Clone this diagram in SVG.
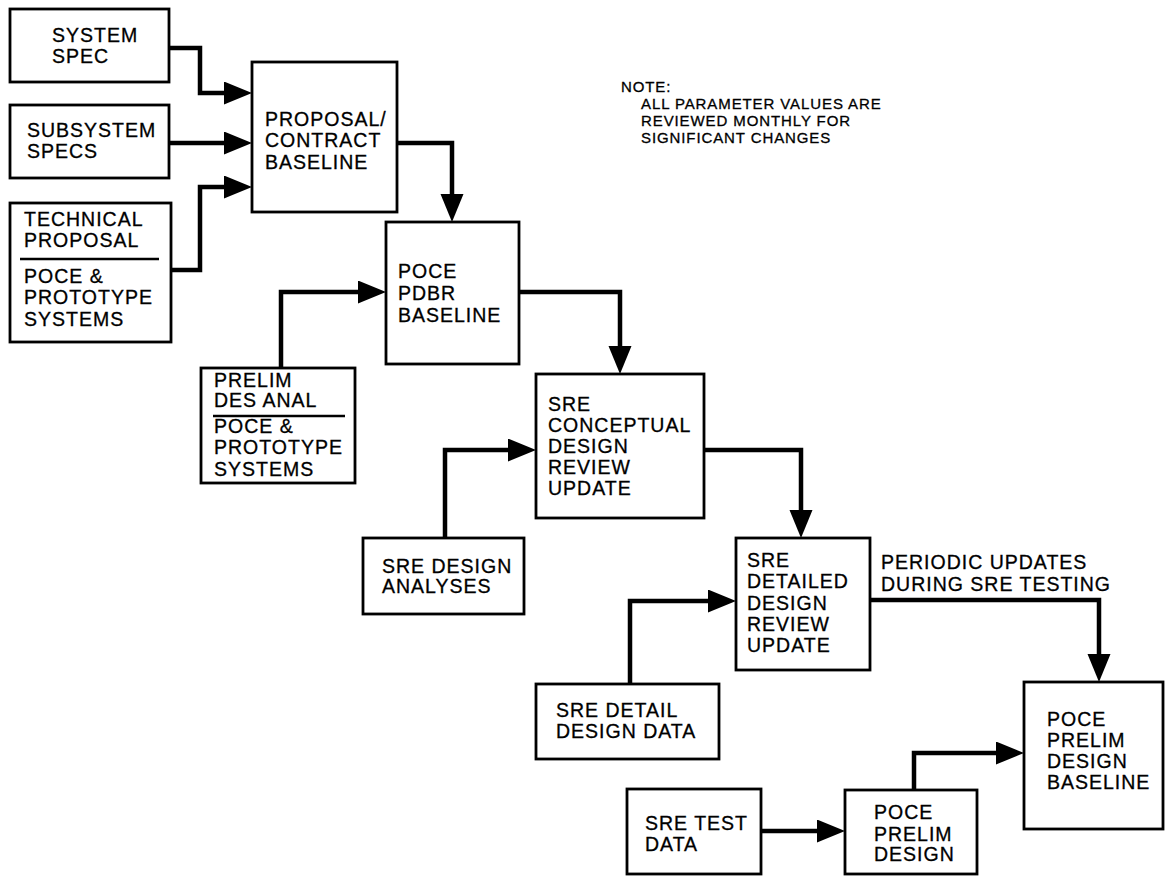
<svg xmlns="http://www.w3.org/2000/svg" width="1166" height="876" viewBox="0 0 1166 876">
  <defs>
    <style>
      .box { fill: #fff; stroke: #000; stroke-width: 2.8; }
      .rule { stroke: #000; stroke-width: 2.6; }
      .lbl { font-family: "Liberation Sans", Arial, sans-serif; font-size: 19.5px; letter-spacing: 1px; fill: #000; stroke: #000; stroke-width: 0.3; }
      .note { font-family: "Liberation Sans", Arial, sans-serif; font-size: 15px; letter-spacing: 0.9px; fill: #000; stroke: #000; stroke-width: 0.3; }
      .flow { fill: none; stroke: #000; stroke-width: 4.5; stroke-linejoin: miter; marker-end: url(#head); }
    </style>
    <!-- arrowhead: tip sits 20px beyond the path end so the thick line stays hidden under it -->
    <marker id="head" markerUnits="userSpaceOnUse" markerWidth="30" markerHeight="24" refX="8" refY="11.5" orient="auto">
      <path d="M0,0 L28,11.5 L0,23 Z" fill="#000"/>
    </marker>
  </defs>

  <rect width="1166" height="876" fill="#fff"/>

  <!-- connectors -->
  <g id="connectors">
    <path class="flow" d="M169,48 H200 V93 H232"/>
    <path class="flow" d="M169,143 H232"/>
    <path class="flow" d="M171,270 H200 V187 H232"/>
    <path class="flow" d="M397,143 H452 V202"/>
    <path class="flow" d="M281,368 V292 H366"/>
    <path class="flow" d="M519,292 H620 V354"/>
    <path class="flow" d="M445,538 V450 H516"/>
    <path class="flow" d="M704,450 H801 V518"/>
    <path class="flow" d="M630,684 V601 H716"/>
    <path class="flow" d="M870,600 H1099 V662"/>
    <path class="flow" d="M914,790 V753 H1004"/>
    <path class="flow" d="M761,831 H825"/>
  </g>

  <g id="note">
    <text class="note" x="621" y="92">NOTE:</text>
    <text class="note" x="641" y="109">ALL PARAMETER VALUES ARE</text>
    <text class="note" x="641" y="126">REVIEWED MONTHLY FOR</text>
    <text class="note" x="641" y="143">SIGNIFICANT CHANGES</text>
  </g>

  <g id="periodic-label">
    <text class="lbl" x="881" y="569">PERIODIC UPDATES</text>
    <text class="lbl" x="881" y="591">DURING SRE TESTING</text>
  </g>

  <g id="system-spec">
    <rect class="box" x="10" y="9" width="159" height="73"/>
    <text class="lbl" x="52" y="42">SYSTEM</text>
    <text class="lbl" x="52" y="63">SPEC</text>
  </g>

  <g id="subsystem-specs">
    <rect class="box" x="10" y="105" width="159" height="73"/>
    <text class="lbl" x="27" y="137">SUBSYSTEM</text>
    <text class="lbl" x="27" y="158">SPECS</text>
  </g>

  <g id="technical-proposal">
    <rect class="box" x="10" y="203" width="161" height="139"/>
    <text class="lbl" x="24" y="226">TECHNICAL</text>
    <text class="lbl" x="24" y="247">PROPOSAL</text>
    <line class="rule" x1="20" y1="259" x2="159" y2="259"/>
    <text class="lbl" x="24" y="283">POCE &amp;</text>
    <text class="lbl" x="24" y="304">PROTOTYPE</text>
    <text class="lbl" x="24" y="326">SYSTEMS</text>
  </g>

  <g id="proposal-contract-baseline">
    <rect class="box" x="252" y="62" width="145" height="150"/>
    <text class="lbl" x="265" y="126">PROPOSAL/</text>
    <text class="lbl" x="265" y="147">CONTRACT</text>
    <text class="lbl" x="265" y="169">BASELINE</text>
  </g>

  <g id="poce-pdbr-baseline">
    <rect class="box" x="386" y="222" width="133" height="142"/>
    <text class="lbl" x="398" y="278">POCE</text>
    <text class="lbl" x="398" y="300">PDBR</text>
    <text class="lbl" x="398" y="322">BASELINE</text>
  </g>

  <g id="prelim-des-anal">
    <rect class="box" x="201" y="368" width="154" height="115"/>
    <text class="lbl" x="214" y="387">PRELIM</text>
    <text class="lbl" x="214" y="407">DES ANAL</text>
    <line class="rule" x1="213" y1="416" x2="345" y2="416"/>
    <text class="lbl" x="214" y="433">POCE &amp;</text>
    <text class="lbl" x="214" y="454">PROTOTYPE</text>
    <text class="lbl" x="214" y="476">SYSTEMS</text>
  </g>

  <g id="sre-conceptual">
    <rect class="box" x="536" y="374" width="168" height="144"/>
    <text class="lbl" x="548" y="411">SRE</text>
    <text class="lbl" x="548" y="432">CONCEPTUAL</text>
    <text class="lbl" x="548" y="453">DESIGN</text>
    <text class="lbl" x="548" y="474">REVIEW</text>
    <text class="lbl" x="548" y="495">UPDATE</text>
  </g>

  <g id="sre-design-analyses">
    <rect class="box" x="363" y="538" width="161" height="76"/>
    <text class="lbl" x="382" y="573">SRE DESIGN</text>
    <text class="lbl" x="382" y="593">ANALYSES</text>
  </g>

  <g id="sre-detailed">
    <rect class="box" x="736" y="538" width="134" height="132"/>
    <text class="lbl" x="747" y="567">SRE</text>
    <text class="lbl" x="747" y="588">DETAILED</text>
    <text class="lbl" x="747" y="610">DESIGN</text>
    <text class="lbl" x="747" y="631">REVIEW</text>
    <text class="lbl" x="747" y="652">UPDATE</text>
  </g>

  <g id="sre-detail-design-data">
    <rect class="box" x="536" y="684" width="183" height="75"/>
    <text class="lbl" x="556" y="717">SRE DETAIL</text>
    <text class="lbl" x="556" y="738">DESIGN DATA</text>
  </g>

  <g id="poce-prelim-design-baseline">
    <rect class="box" x="1024" y="682" width="139" height="147"/>
    <text class="lbl" x="1047" y="726">POCE</text>
    <text class="lbl" x="1047" y="747">PRELIM</text>
    <text class="lbl" x="1047" y="768">DESIGN</text>
    <text class="lbl" x="1047" y="789">BASELINE</text>
  </g>

  <g id="poce-prelim-design">
    <rect class="box" x="845" y="790" width="132" height="84"/>
    <text class="lbl" x="874" y="819">POCE</text>
    <text class="lbl" x="874" y="841">PRELIM</text>
    <text class="lbl" x="874" y="861">DESIGN</text>
  </g>

  <g id="sre-test-data">
    <rect class="box" x="627" y="789" width="134" height="85"/>
    <text class="lbl" x="645" y="830">SRE TEST</text>
    <text class="lbl" x="645" y="851">DATA</text>
  </g>
</svg>
